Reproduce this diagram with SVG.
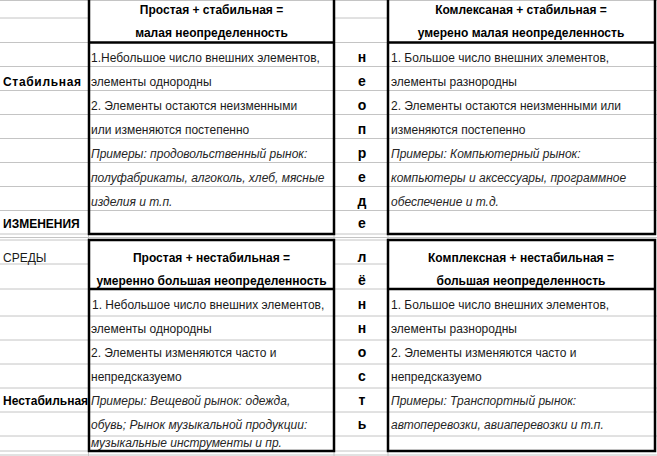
<svg xmlns="http://www.w3.org/2000/svg" width="657" height="456" viewBox="0 0 657 456">
<style>
.g{stroke:#c4c4c4;stroke-width:1;fill:none}
.box{stroke:#000;stroke-width:2.5;fill:none}
.sep{stroke:#000;stroke-width:2.5}
text{font-family:"Liberation Sans",Arial,sans-serif;font-size:12px;fill:#1a1a1a}
.h{font-weight:bold;fill:#000;text-anchor:middle}
.lab{font-weight:bold;fill:#000}
.i{font-style:italic;fill:#262626}
.l{font-weight:bold;font-size:14px;fill:#000;text-anchor:middle}
</style>
<rect x="0" y="0" width="657" height="456" fill="#fff"/>
<g id="grid">
<path class="g" d="M0 0.5H657 M0 18H89 M334 18H388 M0 42.5H89 M334 42.5H388 M0 66.5H657 M0 90.5H657 M0 114.5H657 M0 138.5H657 M0 162.5H657 M0 186.5H657 M0 210.5H657 M0 234H89 M334 234H388 M0 237.5H657 M0 240H89 M334 240H388 M0 264H89 M334 264H388 M0 289H89 M334 289H388 M0 316H657 M0 340H657 M0 364H657 M0 388H657 M0 412H657 M0 436H657 M0 451H89 M334 451H388 M0 455H657 M88.5 234V240 M334 234V240 M388 234V240 M88.5 451V456 M334 451V456 M388 451V456"/>
</g>
<g id="connectors"></g>
<g id="labels">
<text class="lab" x="3" y="86" textLength="78">Стабильная</text>
<text class="lab" x="3" y="228">ИЗМЕНЕНИЯ</text>
<text x="3" y="262">СРЕДЫ</text>
<text class="lab" x="3" y="405">Нестабильная</text>
</g>
<g id="letters">
<text class="l" x="362" y="62">н</text>
<text class="l" x="362" y="86">е</text>
<text class="l" x="362" y="110">о</text>
<text class="l" x="362" y="134">п</text>
<text class="l" x="362" y="158">р</text>
<text class="l" x="362" y="182">е</text>
<text class="l" x="362" y="206">д</text>
<text class="l" x="362" y="228">е</text>
<text class="l" x="362" y="262">л</text>
<text class="l" x="362" y="285">ё</text>
<text class="l" x="362" y="309">н</text>
<text class="l" x="362" y="333">н</text>
<text class="l" x="362" y="357">о</text>
<text class="l" x="362" y="381">с</text>
<text class="l" x="362" y="405">т</text>
<text class="l" x="362" y="429">ь</text>
</g>
<g id="box-simple-stable">
<rect class="box" x="89" y="-5" width="245" height="239"/>
<line class="sep" x1="89" y1="42.5" x2="334" y2="42.5"/>
<text class="h" x="211.5" y="14">Простая + стабильная =</text>
<text class="h" x="211.5" y="37">малая неопределенность</text>
<text x="91" y="62">1.Небольшое число внешних элементов,</text>
<text x="91" y="86">элементы однородны</text>
<text x="91" y="110">2. Элементы остаются неизменными</text>
<text x="91" y="134">или изменяются постепенно</text>
<text class="i" x="91" y="158">Примеры: продовольственный рынок:</text>
<text class="i" x="91" y="182">полуфабрикаты, алгоколь, хлеб, мясные</text>
<text class="i" x="91" y="206">изделия и т.п.</text>
</g>
<g id="box-complex-stable">
<rect class="box" x="388" y="-5" width="267" height="239"/>
<line class="sep" x1="388" y1="42.5" x2="655" y2="42.5"/>
<text class="h" x="521" y="14">Комлексаная + стабильная =</text>
<text class="h" x="521" y="37">умерено малая неопределенность</text>
<text x="391" y="62">1. Большое число внешних элементов,</text>
<text x="391" y="86">элементы разнородны</text>
<text x="391" y="110">2. Элементы остаются неизменными или</text>
<text x="391" y="134">изменяются постепенно</text>
<text class="i" x="391" y="158">Примеры: Компьютерный рынок:</text>
<text class="i" x="391" y="182">компьютеры и аксессуары, программное</text>
<text class="i" x="391" y="206">обеспечение и т.д.</text>
</g>
<g id="box-simple-unstable">
<rect class="box" x="89" y="240" width="245" height="211"/>
<line class="sep" x1="89" y1="289" x2="334" y2="289"/>
<text class="h" x="211.5" y="262">Простая + нестабильная =</text>
<text class="h" x="211.5" y="285">умеренно большая неопределенность</text>
<text x="92" y="309">1. Небольшое число внешних элементов,</text>
<text x="91" y="333">элементы однородны</text>
<text x="91" y="357">2. Элементы изменяются часто и</text>
<text x="91" y="381">непредсказуемо</text>
<text class="i" x="91" y="405">Примеры: Вещевой рынок: одежда,</text>
<text class="i" x="91" y="429">обувь; Рынок музыкальной продукции:</text>
<text class="i" x="91" y="447">музыкальные инструменты и пр.</text>
</g>
<g id="box-complex-unstable">
<rect class="box" x="388" y="240" width="267" height="211"/>
<line class="sep" x1="388" y1="289" x2="655" y2="289"/>
<text class="h" x="521" y="262">Комплексная + нестабильная =</text>
<text class="h" x="521" y="285">большая неопределенность</text>
<text x="391" y="309">1. Большое число внешних элементов,</text>
<text x="391" y="333">элементы разнородны</text>
<text x="391" y="357">2. Элементы изменяются часто и</text>
<text x="391" y="381">непредсказуемо</text>
<text class="i" x="391" y="405">Примеры: Транспортный рынок:</text>
<text class="i" x="391" y="429">автоперевозки, авиаперевозки и т.п.</text>
</g>
</svg>
